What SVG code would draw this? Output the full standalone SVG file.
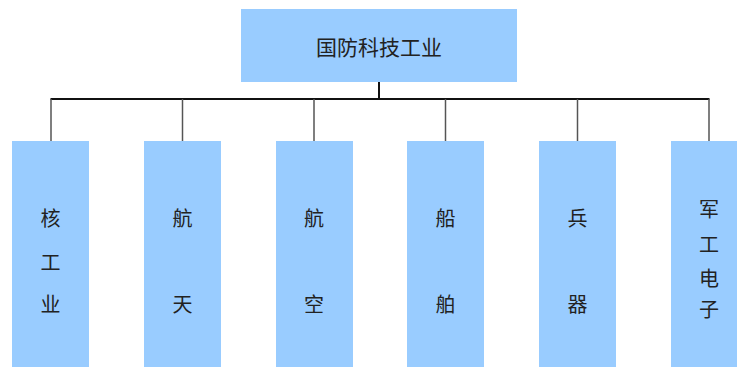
<svg xmlns="http://www.w3.org/2000/svg" width="737" height="367" viewBox="0 0 737 367">
<style>
.box{fill:#99CCFF;stroke:none}
.t{font-family:"Noto Sans CJK SC","Noto Sans",sans-serif;font-size:20px;fill:#222;text-anchor:middle;dominant-baseline:central}
.title{font-size:21px}
.ln{stroke:#555;stroke-width:1.5;fill:none}
.main{stroke:#111;stroke-width:2;fill:none}
</style>
<rect width="737" height="367" fill="#fff"/>
<g id="connectors">
<line class="main" x1="379" y1="82" x2="379" y2="99"/>
<line class="main" x1="50.5" y1="99" x2="709.5" y2="99"/>
<line class="ln" x1="51" y1="99" x2="51" y2="141"/>
<line class="ln" x1="182.5" y1="99" x2="182.5" y2="141"/>
<line class="ln" x1="314" y1="99" x2="314" y2="141"/>
<line class="ln" x1="445.5" y1="99" x2="445.5" y2="141"/>
<line class="ln" x1="577.5" y1="99" x2="577.5" y2="141"/>
<line class="ln" x1="709" y1="99" x2="709" y2="141"/>
</g>
<g id="root">
<rect class="box" x="241" y="9" width="276" height="73"/>
<text class="t title" x="379" y="45.5">国防科技工业</text>
</g>
<g id="n1">
<rect class="box" x="12" y="141" width="77" height="226"/>
<text class="t" x="50.5" y="217">核</text>
<text class="t" x="50.5" y="261">工</text>
<text class="t" x="50.5" y="303">业</text>
</g>
<g id="n2">
<rect class="box" x="144" y="141" width="77" height="226"/>
<text class="t" x="182.5" y="217">航</text>
<text class="t" x="182.5" y="303">天</text>
</g>
<g id="n3">
<rect class="box" x="276" y="141" width="77" height="226"/>
<text class="t" x="314" y="217">航</text>
<text class="t" x="314" y="303">空</text>
</g>
<g id="n4">
<rect class="box" x="407" y="141" width="77" height="226"/>
<text class="t" x="445.5" y="217">船</text>
<text class="t" x="445.5" y="303">舶</text>
</g>
<g id="n5">
<rect class="box" x="539" y="141" width="77" height="226"/>
<text class="t" x="577.5" y="217">兵</text>
<text class="t" x="577.5" y="303">器</text>
</g>
<g id="n6">
<rect class="box" x="671" y="141" width="77" height="226"/>
<text class="t" x="709" y="208">军</text>
<text class="t" x="709" y="243">工</text>
<text class="t" x="709" y="277">电</text>
<text class="t" x="709" y="308">子</text>
</g>
</svg>
